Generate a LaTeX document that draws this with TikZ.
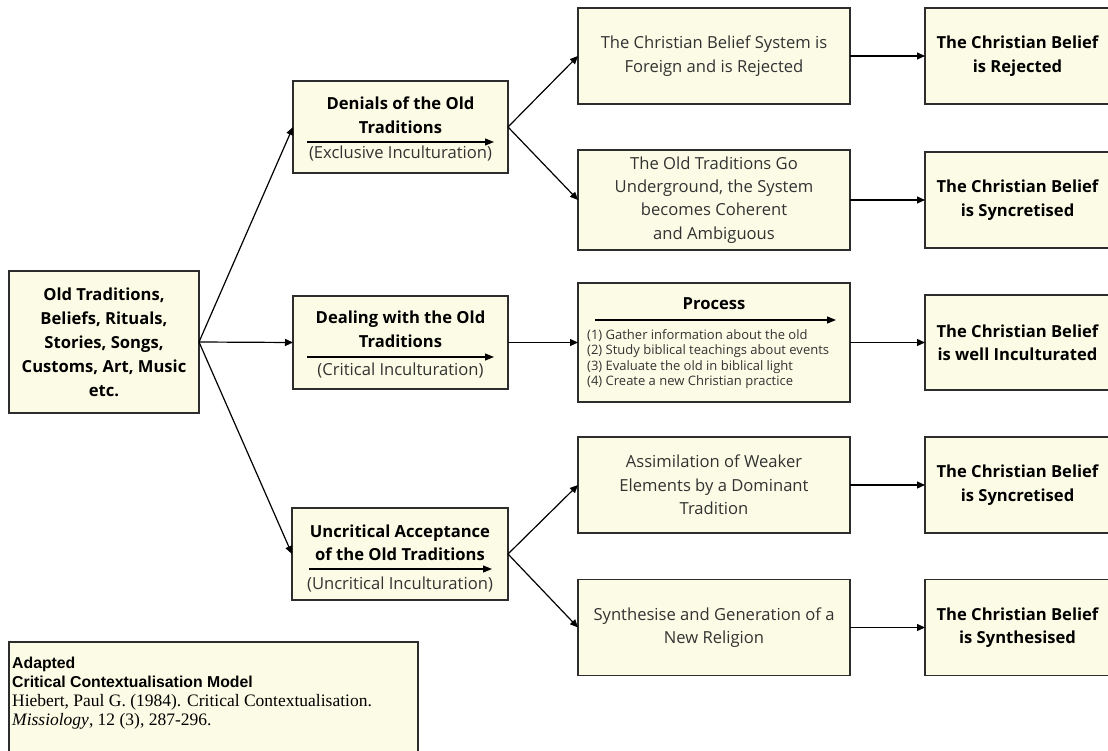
\documentclass[tikz,border=0pt]{standalone}
\usepackage{fontspec}
\setmainfont{Open Sans}
\newfontfamily\arialf{Liberation Sans}
\newfontfamily\timesf{Liberation Serif}
\usetikzlibrary{arrows.meta}
\definecolor{boxfill}{RGB}{252,252,230}
\definecolor{txtgray}{RGB}{50,50,50}
\definecolor{edgegray}{RGB}{45,45,45}
\tikzset{
  box/.style={draw=edgegray, line width=1.4pt, fill=boxfill, inner sep=0pt, outer sep=0pt, rectangle},
  bt/.style={font=\fontsize{16.6}{23.5}\selectfont\bfseries, align=center, text=black, inner sep=0pt},
  rt/.style={font=\fontsize{16.6}{23.5}\selectfont, align=center, text=txtgray, inner sep=0pt},
  lt/.style={font=\fontsize{13}{15.2}\selectfont, align=left, text=txtgray, inner sep=0pt},
  conn/.style={-{Triangle[length=8pt,width=7pt]}, line width=1.2pt, draw=black},
  inarrow/.style={-{Triangle[length=9pt,width=7pt]}, line width=1.2pt, draw=black}
}
\begin{document}
\begin{tikzpicture}[x=1pt,y=-1pt]
\useasboundingbox (0,0) rectangle (1108,751);
\clip (0,0) rectangle (1108,751);
\fill[white] (0,0) rectangle (1108,751);

% left box
\node[box, bt, font=\fontsize{16.6}{24}\selectfont\bfseries, minimum width=190, minimum height=142] (L) at (104,342)
  {Old Traditions,\\Beliefs, Rituals,\\Stories, Songs,\\Customs, Art, Music\\etc.};

% second column
\node[box, minimum width=215, minimum height=92] (D) at (400.5,127) {};
\node[bt] (Dt) at (400.5,115) {Denials of the Old\\Traditions};
\node[rt] (Db) at (400.5,153.5) {(Exclusive Inculturation)};
\coordinate (Da1) at (307,142);
\coordinate (Da2) at (494,142);
\draw[inarrow] (Da1) -- (Da2);

\node[box, minimum width=215, minimum height=93] (G) at (400.5,342.5) {};
\node[bt] (Gt) at (400.5,329.5) {Dealing with the Old\\Traditions};
\node[rt] (Gb) at (400.5,371) {(Critical Inculturation)};
\coordinate (Ga1) at (307,357);
\coordinate (Ga2) at (494,357);
\draw[inarrow] (Ga1) -- (Ga2);

\node[box, minimum width=216, minimum height=92] (U) at (400,554) {};
\node[bt] (Ut) at (400,543) {Uncritical Acceptance\\of the Old Traditions};
\node[rt] (Ub) at (400,585) {(Uncritical Inculturation)};
\coordinate (Ua1) at (309,569);
\coordinate (Ua2) at (492,569);
\draw[inarrow] (Ua1) -- (Ua2);

% third column
\node[box, rt, minimum width=272, minimum height=96] (M1) at (714,56)
  {The Christian Belief System is\\Foreign and is Rejected};
\node[box, rt, font=\fontsize{16.6}{23.2}\selectfont, minimum width=272, minimum height=100] (M2) at (714,200)
  {The Old Traditions Go\\Underground, the System\\becomes Coherent\\and Ambiguous};
\node[box, minimum width=272, minimum height=119] (M3) at (714,342.5) {};
\node[bt, font=\fontsize{16.6}{20}\selectfont\bfseries] (M3t) at (714,304) {Process};
\coordinate (Ma1) at (595,320);
\coordinate (Ma2) at (836,320);
\draw[inarrow] (Ma1) -- (Ma2);
\node[lt, anchor=north west] (M3l) at (587,329.5)
  {(1) Gather information about the old\\(2) Study biblical teachings about events\\(3) Evaluate the old in biblical light\\(4) Create a new Christian practice};
\node[box, rt, minimum width=272, minimum height=96] (M4) at (714,485)
  {Assimilation of Weaker\\Elements by a Dominant\\Tradition};
\node[box, rt, minimum width=272, minimum height=96] (M5) at (714,627.5)
  {Synthesise and Generation of a\\New Religion};

% right column
\node[box, bt, minimum width=185, minimum height=96] (R1) at (1017.5,56)
  {The Christian Belief\\is Rejected};
\node[box, bt, minimum width=185, minimum height=96] (R2) at (1017.5,200)
  {The Christian Belief\\is Syncretised};
\node[box, bt, minimum width=185, minimum height=95] (R3) at (1017.5,342.5)
  {The Christian Belief\\is well Inculturated};
\node[box, bt, minimum width=185, minimum height=96] (R4) at (1017.5,485)
  {The Christian Belief\\is Syncretised};
\node[box, bt, minimum width=185, minimum height=96] (R5) at (1017.5,627.5)
  {The Christian Belief\\is Synthesised};

% reference box
\node[box, minimum width=409, minimum height=120, anchor=north west] (REF) at (9,642) {};
\node[inner sep=0pt, anchor=north west, align=left, text=black,
      font=\fontsize{17.5}{19}\selectfont] (REFt) at (12,656.5)
  {{\arialf\bfseries\fontsize{15.8}{19}\selectfont Adapted}\\
   {\arialf\bfseries\fontsize{15.8}{19}\selectfont Critical Contextualisation Model}\\
   {\timesf Hiebert, Paul G. (1984). Critical Contextualisation.}\\
   {\timesf\itshape Missiology}{\timesf , 12 (3), 287-296.}};

% connectors
\draw[conn] (L.east) -- (D.west);
\draw[conn] (L.east) -- (G.west);
\draw[conn] (L.east) -- (U.west);
\draw[conn] (D.east) -- (M1.west);
\draw[conn] (D.east) -- (M2.west);
\draw[conn] (G.east) -- (M3.west);
\draw[conn] (U.east) -- (M4.west);
\draw[conn] (U.east) -- (M5.west);
\draw[conn] (M1.east) -- (R1.west);
\draw[conn] (M2.east) -- (R2.west);
\draw[conn] (M3.east) -- (R3.west);
\draw[conn] (M4.east) -- (R4.west);
\draw[conn] (M5.east) -- (R5.west);
\end{tikzpicture}
\end{document}
